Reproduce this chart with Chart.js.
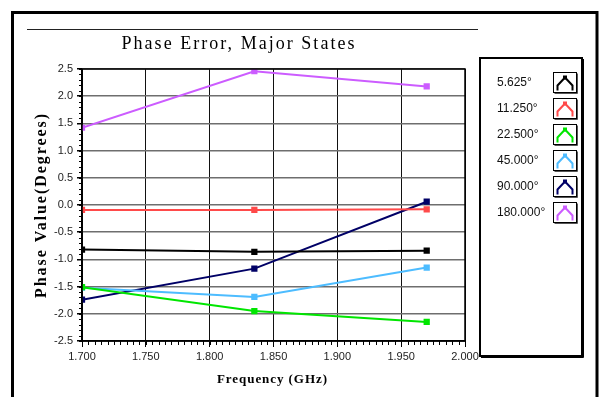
<!DOCTYPE html>
<html>
<head>
<meta charset="utf-8">
<title>Phase Error, Major States</title>
<script src="https://cdn.jsdelivr.net/npm/chart.js@4.4.1/dist/chart.umd.min.js"></script>
<style>
    html, body { margin: 0; padding: 0; background: #fff; }
    #wrap { width: 602px; height: 397px; position: relative; }
</style>
</head>
<body>
<div id="wrap"><canvas id="chart" width="602" height="397"></canvas></div>
<script>
// Frequencies (GHz) where the phase error was measured
const freqs = [1.70, 1.835, 1.97];

// Phase error per major state (degrees)
const state5625 = [-0.82, -0.86, -0.84];
const state11250 = [-0.09, -0.09, -0.08];
const state22500 = [-1.51, -1.95, -2.15];
const state45000 = [-1.52, -1.69, -1.15];
const state90000 = [-1.74, -1.17, 0.06];
const state180000 = [1.42, 2.46, 2.18];

const stateLabels = ['5.625°', '11.250°', '22.500°', '45.000°', '90.000°', '180.000°'];
const stateColors = ['#000000', '#ff4a4a', '#00e600', '#4dbcff', '#000066', '#cc5cff'];

const xMin = 1.7, xMax = 2.0, xStep = 0.05, xMinorStep = 0.005;
const yMin = -2.5, yMax = 2.5, yStep = 0.5, yMinorStep = 0.1;

const seriesValues = [state5625, state11250, state22500, state45000, state90000, state180000];

const datasets = seriesValues.map((vals, i) => ({
    label: stateLabels[i],
    data: vals.map((v, j) => ({ x: freqs[j], y: v })),
    borderColor: stateColors[i],
    backgroundColor: stateColors[i],
    borderWidth: 2,
    pointStyle: 'rect',
    pointRadius: 3,
    pointHoverRadius: 3,
    tension: 0
}));

const TICK_FONT = { family: '"Liberation Sans", Arial, sans-serif', size: 11 };
const SERIF = '"Liberation Serif", "DejaVu Serif", serif';

// spread text so it spans a given width, like the old fixed-pitch output
function spreadText(ctx, text, x, y, width) {
    ctx.letterSpacing = '0px';
    const w = ctx.measureText(text).width;
    const gap = (width - w) / (text.length - 1);
    ctx.letterSpacing = gap.toFixed(2) + 'px';
    ctx.fillText(text, x + gap / 2, y);
    ctx.letterSpacing = '0px';
}

// Frame, title, axis titles, minor ticks and the boxed legend
const decorPlugin = {
    id: 'decor',
    beforeDraw(chart) {
        const ctx = chart.ctx;
        ctx.save();
        ctx.fillStyle = '#fff';
        ctx.fillRect(0, 0, chart.width, chart.height);
        ctx.restore();
    },
    afterDraw(chart) {
        const ctx = chart.ctx;
        const a = chart.chartArea;
        const xs = chart.scales.x;
        const ys = chart.scales.y;
        ctx.save();

        // outer frame
        ctx.strokeStyle = '#000';
        ctx.lineWidth = 3;
        ctx.strokeRect(12.5, 12.5, 584.5, 420);

        // rule above the title
        ctx.lineWidth = 1;
        ctx.strokeStyle = '#222';
        ctx.beginPath();
        ctx.moveTo(27, 29.5);
        ctx.lineTo(478, 29.5);
        ctx.stroke();

        // title
        ctx.fillStyle = '#000';
        ctx.font = '18px ' + SERIF;
        ctx.textAlign = 'center';
        ctx.textBaseline = 'middle';
        spreadText(ctx, 'Phase Error, Major States', 238, 44, 233);

        // plot border
        ctx.lineWidth = 1.5;
        ctx.strokeStyle = '#000';
        ctx.strokeRect(a.left, a.top, a.right - a.left, a.bottom - a.top);

        // minor ticks
        ctx.lineWidth = 1;
        ctx.beginPath();
        for (let v = yMin; v <= yMax + 1e-9; v += yMinorStep) {
            const py = Math.round(ys.getPixelForValue(v)) + 0.5;
            ctx.moveTo(a.left - 3, py);
            ctx.lineTo(a.left, py);
        }
        for (let v = xMin; v <= xMax + 1e-9; v += xMinorStep) {
            const px = Math.round(xs.getPixelForValue(v)) + 0.5;
            ctx.moveTo(px, a.bottom);
            ctx.lineTo(px, a.bottom + 4);
        }
        ctx.stroke();

        // axis titles
        ctx.font = 'bold 16px ' + SERIF;
        ctx.save();
        ctx.translate(42, (a.top + a.bottom) / 2 + 1);
        ctx.rotate(-Math.PI / 2);
        spreadText(ctx, 'Phase Value(Degrees)', 0, 0, 184);
        ctx.restore();
        ctx.font = 'bold 13px ' + SERIF;
        spreadText(ctx, 'Frequency (GHz)', 272, 380, 110);

        // legend box
        ctx.lineWidth = 2;
        ctx.strokeRect(480, 58, 102, 298);
        ctx.lineWidth = 1;
        ctx.beginPath();
        ctx.moveTo(583.5, 59);
        ctx.lineTo(583.5, 357.5);
        ctx.lineTo(481, 357.5);
        ctx.stroke();

        chart.data.datasets.forEach((ds, i) => {
            const cy = 83 + i * 26;
            ctx.fillStyle = '#111';
            ctx.font = '12px "Liberation Sans Narrow", "Liberation Sans", sans-serif';
            ctx.textAlign = 'left';
            ctx.fillText(ds.label, 497, cy);

            const bx = 553.5, by = cy - 10.5, bw = 23, bh = 20;
            ctx.fillStyle = '#fff';
            ctx.fillRect(bx, by, bw, bh);
            ctx.strokeStyle = '#000';
            ctx.lineWidth = 1;
            ctx.strokeRect(bx, by, bw, bh);
            ctx.strokeStyle = '#555';
            ctx.beginPath();
            ctx.moveTo(bx + bw + 1, by + 1);
            ctx.lineTo(bx + bw + 1, by + bh + 1);
            ctx.lineTo(bx + 1, by + bh + 1);
            ctx.stroke();

            ctx.strokeStyle = ds.borderColor;
            ctx.lineWidth = 2;
            ctx.beginPath();
            ctx.moveTo(bx + 4, by + bh - 2);
            ctx.lineTo(bx + 4, by + bh - 7);
            ctx.lineTo(bx + bw / 2, by + 5);
            ctx.lineTo(bx + bw - 4, by + bh - 7);
            ctx.lineTo(bx + bw - 4, by + bh - 2);
            ctx.stroke();
            ctx.fillStyle = ds.borderColor;
            ctx.fillRect(bx + bw / 2 - 2, by + 3, 4, 4);
        });

        ctx.restore();
    }
};

new Chart(document.getElementById('chart'), {
    type: 'line',
    data: { datasets },
    options: {
        responsive: false,
        animation: false,
        events: [],
        layout: { padding: { left: 0, top: 69, right: 137, bottom: 0 } },
        plugins: {
            legend: { display: false },
            title: { display: false },
            tooltip: { enabled: false }
        },
        scales: {
            x: {
                type: 'linear',
                min: xMin,
                max: xMax,
                afterFit: s => { s.height = 56; },
                afterBuildTicks: s => {
                    const t = [];
                    for (let k = 0; k <= Math.round((xMax - xMin) / xStep); k++) t.push({ value: +(xMin + k * xStep).toFixed(3) });
                    s.ticks = t;
                },
                ticks: {
                    font: TICK_FONT,
                    color: '#222',
                    padding: 3,
                    maxRotation: 0,
                    callback: v => Number(v).toFixed(3)
                },
                grid: { color: '#111', lineWidth: 1, tickLength: 6, tickColor: '#000' },
                border: { display: true, color: '#000', width: 1.5 }
            },
            y: {
                type: 'linear',
                min: yMin,
                max: yMax,
                afterFit: s => { s.width = 82; },
                afterBuildTicks: s => {
                    const t = [];
                    for (let k = 0; k <= Math.round((yMax - yMin) / yStep); k++) t.push({ value: +(yMin + k * yStep).toFixed(1) });
                    s.ticks = t;
                },
                ticks: {
                    font: TICK_FONT,
                    color: '#222',
                    padding: 4,
                    callback: v => Number(v).toFixed(1)
                },
                grid: { color: '#6e6e6e', lineWidth: 1.5, tickLength: 5, tickColor: '#000' },
                border: { display: true, color: '#000', width: 1.5 }
            }
        }
    },
    plugins: [decorPlugin]
});
</script>
</body>
</html>
